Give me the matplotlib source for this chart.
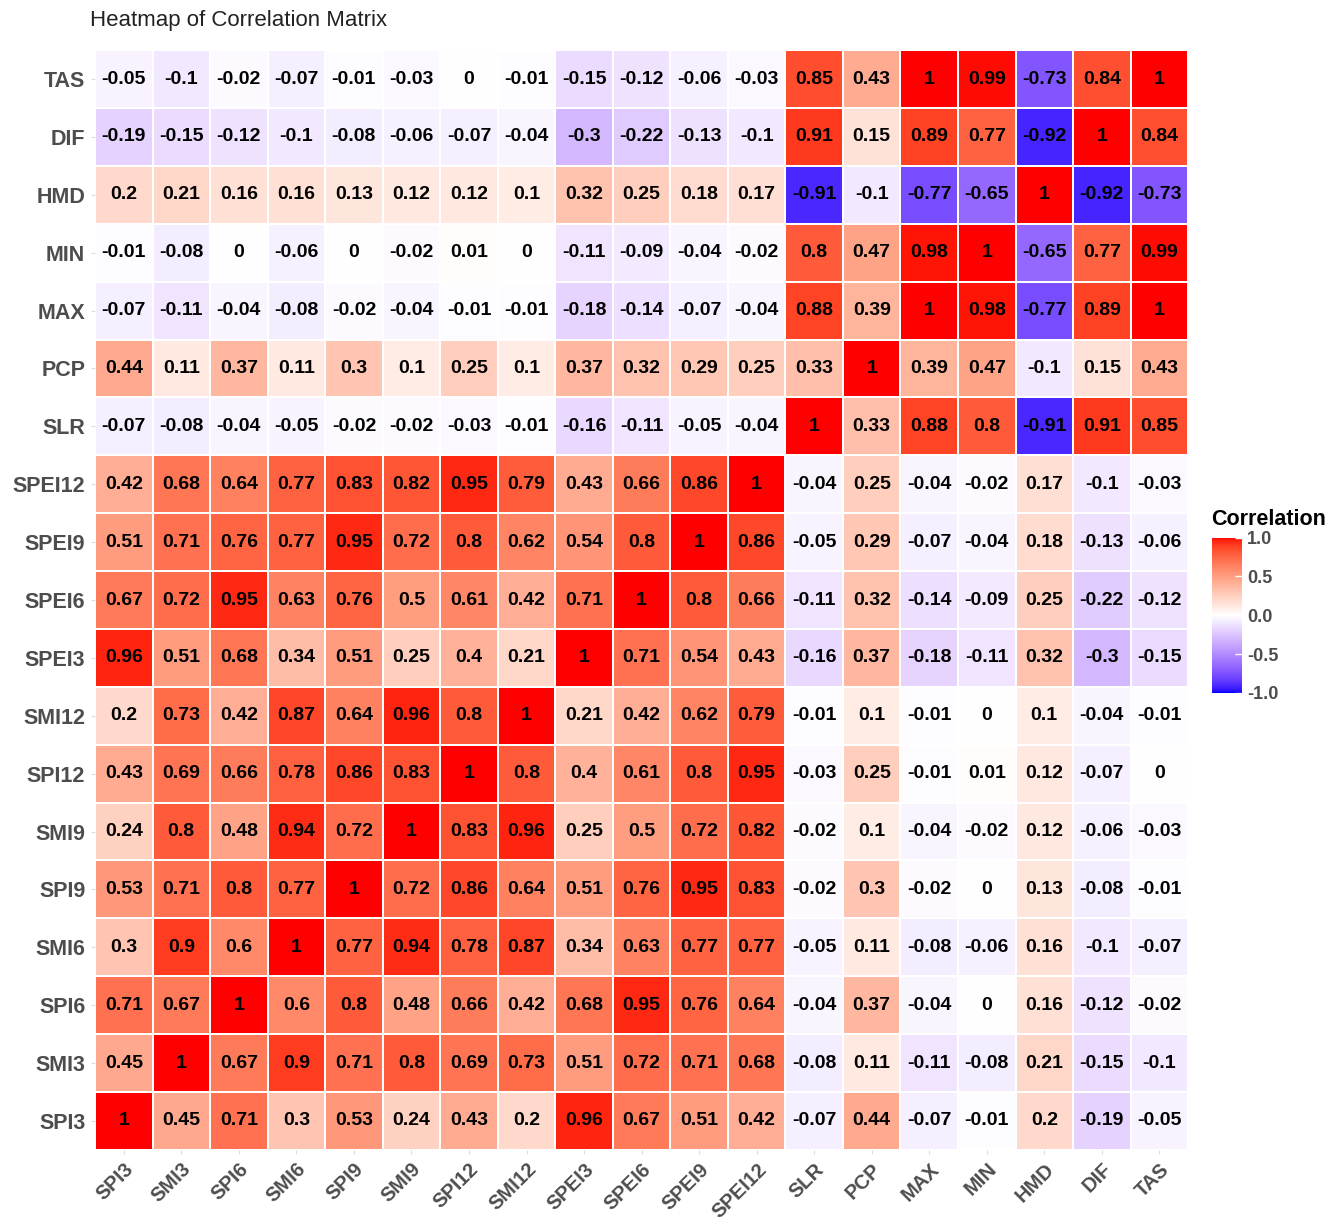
import matplotlib
matplotlib.use("Agg")
import matplotlib.pyplot as plt
import numpy as np
from matplotlib.colors import ListedColormap

plt.rcParams['font.family'] = ['Liberation Sans', 'DejaVu Sans']

variables = ['SPI3', 'SMI3', 'SPI6', 'SMI6', 'SPI9', 'SMI9', 'SPI12', 'SMI12',
             'SPEI3', 'SPEI6', 'SPEI9', 'SPEI12', 'SLR', 'PCP', 'MAX', 'MIN',
             'HMD', 'DIF', 'TAS']

# rows listed bottom (SPI3) to top (TAS), columns in the order of `variables`
spi3 = [1, 0.45, 0.71, 0.3, 0.53, 0.24, 0.43, 0.2, 0.96, 0.67, 0.51, 0.42, -0.07, 0.44, -0.07, -0.01, 0.2, -0.19, -0.05]
smi3 = [0.45, 1, 0.67, 0.9, 0.71, 0.8, 0.69, 0.73, 0.51, 0.72, 0.71, 0.68, -0.08, 0.11, -0.11, -0.08, 0.21, -0.15, -0.1]
spi6 = [0.71, 0.67, 1, 0.6, 0.8, 0.48, 0.66, 0.42, 0.68, 0.95, 0.76, 0.64, -0.04, 0.37, -0.04, 0, 0.16, -0.12, -0.02]
smi6 = [0.3, 0.9, 0.6, 1, 0.77, 0.94, 0.78, 0.87, 0.34, 0.63, 0.77, 0.77, -0.05, 0.11, -0.08, -0.06, 0.16, -0.1, -0.07]
spi9 = [0.53, 0.71, 0.8, 0.77, 1, 0.72, 0.86, 0.64, 0.51, 0.76, 0.95, 0.83, -0.02, 0.3, -0.02, 0, 0.13, -0.08, -0.01]
smi9 = [0.24, 0.8, 0.48, 0.94, 0.72, 1, 0.83, 0.96, 0.25, 0.5, 0.72, 0.82, -0.02, 0.1, -0.04, -0.02, 0.12, -0.06, -0.03]
spi12 = [0.43, 0.69, 0.66, 0.78, 0.86, 0.83, 1, 0.8, 0.4, 0.61, 0.8, 0.95, -0.03, 0.25, -0.01, 0.01, 0.12, -0.07, 0]
smi12 = [0.2, 0.73, 0.42, 0.87, 0.64, 0.96, 0.8, 1, 0.21, 0.42, 0.62, 0.79, -0.01, 0.1, -0.01, 0, 0.1, -0.04, -0.01]
spei3 = [0.96, 0.51, 0.68, 0.34, 0.51, 0.25, 0.4, 0.21, 1, 0.71, 0.54, 0.43, -0.16, 0.37, -0.18, -0.11, 0.32, -0.3, -0.15]
spei6 = [0.67, 0.72, 0.95, 0.63, 0.76, 0.5, 0.61, 0.42, 0.71, 1, 0.8, 0.66, -0.11, 0.32, -0.14, -0.09, 0.25, -0.22, -0.12]
spei9 = [0.51, 0.71, 0.76, 0.77, 0.95, 0.72, 0.8, 0.62, 0.54, 0.8, 1, 0.86, -0.05, 0.29, -0.07, -0.04, 0.18, -0.13, -0.06]
spei12 = [0.42, 0.68, 0.64, 0.77, 0.83, 0.82, 0.95, 0.79, 0.43, 0.66, 0.86, 1, -0.04, 0.25, -0.04, -0.02, 0.17, -0.1, -0.03]
slr = [-0.07, -0.08, -0.04, -0.05, -0.02, -0.02, -0.03, -0.01, -0.16, -0.11, -0.05, -0.04, 1, 0.33, 0.88, 0.8, -0.91, 0.91, 0.85]
pcp = [0.44, 0.11, 0.37, 0.11, 0.3, 0.1, 0.25, 0.1, 0.37, 0.32, 0.29, 0.25, 0.33, 1, 0.39, 0.47, -0.1, 0.15, 0.43]
mx = [-0.07, -0.11, -0.04, -0.08, -0.02, -0.04, -0.01, -0.01, -0.18, -0.14, -0.07, -0.04, 0.88, 0.39, 1, 0.98, -0.77, 0.89, 1]
mn = [-0.01, -0.08, 0, -0.06, 0, -0.02, 0.01, 0, -0.11, -0.09, -0.04, -0.02, 0.8, 0.47, 0.98, 1, -0.65, 0.77, 0.99]
hmd = [0.2, 0.21, 0.16, 0.16, 0.13, 0.12, 0.12, 0.1, 0.32, 0.25, 0.18, 0.17, -0.91, -0.1, -0.77, -0.65, 1, -0.92, -0.73]
dif = [-0.19, -0.15, -0.12, -0.1, -0.08, -0.06, -0.07, -0.04, -0.3, -0.22, -0.13, -0.1, 0.91, 0.15, 0.89, 0.77, -0.92, 1, 0.84]
tas = [-0.05, -0.1, -0.02, -0.07, -0.01, -0.03, 0, -0.01, -0.15, -0.12, -0.06, -0.03, 0.85, 0.43, 1, 0.99, -0.73, 0.84, 1]

corr = np.array([spi3, smi3, spi6, smi6, spi9, smi9, spi12, smi12, spei3, spei6,
                 spei9, spei12, slr, pcp, mx, mn, hmd, dif, tas])


# ggplot-like gradient2 (blue - white - red), interpolated in Lab space
def srgb_to_lab(rgb):
    rgb = np.asarray(rgb, float)
    lin = np.where(rgb <= 0.04045, rgb / 12.92, ((rgb + 0.055) / 1.055) ** 2.4)
    m = np.array([[0.4124, 0.3576, 0.1805],
                  [0.2126, 0.7152, 0.0722],
                  [0.0193, 0.1192, 0.9505]])
    xyz = m @ lin / np.array([0.95047, 1.0, 1.08883])
    f = np.where(xyz > 0.008856, np.cbrt(xyz), 7.787 * xyz + 16 / 116)
    return np.array([116 * f[1] - 16, 500 * (f[0] - f[1]), 200 * (f[1] - f[2])])


def lab_to_srgb(lab):
    L, a, b = lab
    fy = (L + 16) / 116
    fx = fy + a / 500
    fz = fy - b / 200
    f = np.array([fx, fy, fz])
    xyz = np.where(f ** 3 > 0.008856, f ** 3, (f - 16 / 116) / 7.787)
    xyz = xyz * np.array([0.95047, 1.0, 1.08883])
    minv = np.array([[3.2406, -1.5372, -0.4986],
                     [-0.9689, 1.8758, 0.0415],
                     [0.0557, -0.2040, 1.0570]])
    lin = minv @ xyz
    rgb = np.where(lin <= 0.0031308, 12.92 * lin, 1.055 * np.clip(lin, 0, None) ** (1 / 2.4) - 0.055)
    return np.clip(rgb, 0, 1)


lab_lo = srgb_to_lab([0, 0, 1])
lab_mid = srgb_to_lab([1, 1, 1])
lab_hi = srgb_to_lab([1, 0, 0])
colors = []
for t in np.linspace(-1, 1, 256):
    if t < 0:
        lab = lab_mid + (lab_lo - lab_mid) * (-t)
    else:
        lab = lab_mid + (lab_hi - lab_mid) * t
    colors.append(lab_to_srgb(lab))
cmap = ListedColormap(colors)

fig = plt.figure(figsize=(13.38, 12.22), dpi=100)
ax = fig.add_axes([0.071, 0.059, 0.817, 0.9])

n = len(variables)
mesh = ax.pcolormesh(np.arange(n + 1) - 0.5, np.arange(n + 1) - 0.5, corr,
                     cmap=cmap, vmin=-1, vmax=1, edgecolors='white', linewidth=1.2)

for i in range(n):
    for j in range(n):
        v = corr[i, j]
        label = f"{v:g}"
        if label == "-0":
            label = "0"
        ax.text(j, i, label, ha='center', va='center', fontsize=14,
                fontweight='bold', color='black')

ax.set_xlim(-0.5, n - 0.5)
ax.set_ylim(-0.5, n - 0.5)
ax.set_xticks(range(n))
ax.set_yticks(range(n))
ax.set_xticklabels(variables, rotation=45, ha='right', rotation_mode='anchor',
                   fontsize=14.5, fontweight='bold', color='#4D4D4D')
ax.set_yticklabels(variables, fontsize=15.5, fontweight='bold', color='#4D4D4D')
ax.tick_params(axis='both', length=3, color='#DDDDDD', pad=4)
ax.tick_params(axis='x', pad=4)
for s in ax.spines.values():
    s.set_visible(False)

fig.text(0.067, 0.983, 'Heatmap of Correlation Matrix', fontsize=16,
         color='#222222', ha='left', va='center')

cax = fig.add_axes([0.906, 0.433, 0.022, 0.127])
cb = fig.colorbar(mesh, cax=cax, ticks=[-1, -0.5, 0, 0.5, 1])
cb.outline.set_visible(False)
cb.ax.set_yticklabels(['-1.0', '-0.5', '0.0', '0.5', '1.0'], fontsize=13,
                      fontweight='bold', color='#4D4D4D')
cb.ax.tick_params(length=5, color='white', width=1, direction='in', pad=4)
cax.set_title('Correlation', fontsize=15.5, fontweight='bold', loc='left',
              x=-0.05, pad=9)

fig.savefig('out.png', dpi=100, facecolor='white')
